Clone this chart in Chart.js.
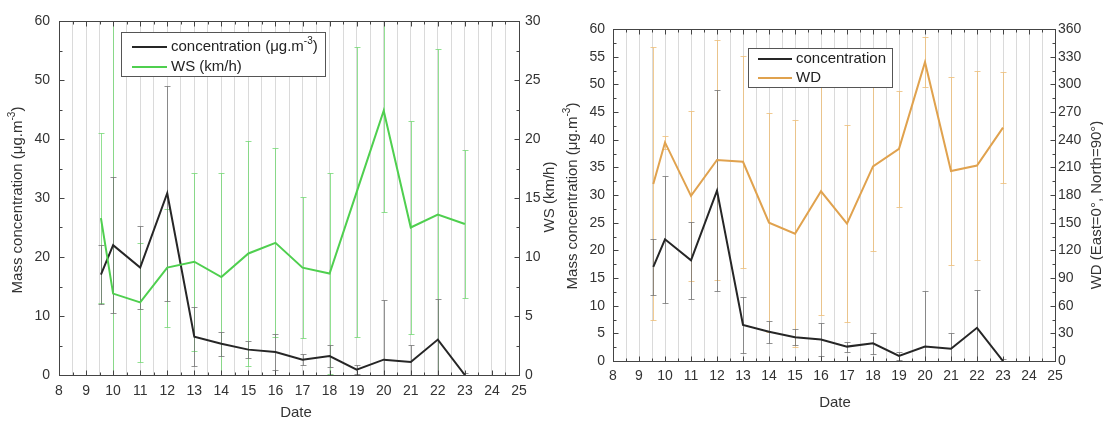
<!DOCTYPE html>
<html><head><meta charset="utf-8">
<script src="https://cdn.jsdelivr.net/npm/chart.js@4.4.1/dist/chart.umd.min.js"></script>
<style>
html,body{margin:0;padding:0;background:#fff;width:1103px;height:421px;overflow:hidden}
#c1{position:absolute;left:0;top:0}
#c2{position:absolute;left:560px;top:0}
</style></head><body>
<canvas id="c1" width="560" height="421"></canvas>
<canvas id="c2" width="543" height="421"></canvas>
<script>
// ---- data ----
const dates = [9.55, 10, 11, 12, 13, 14, 15, 16, 17, 18, 19, 20, 21, 22, 23];
const concentration = [17, 22, 18.2, 30.8, 6.5, 5.3, 4.3, 3.9, 2.6, 3.2, 0.9, 2.6, 2.2, 6, 0];
const concentrationErr = [5, 11.5, 7, 18.2, 5, 2, 1.4, 3, 0.9, 1.9, 0.75, 10.1, 2.9, 6.85, 0.3];
const windSpeed = [13.3, 6.9, 6.15, 9.1, 9.6, 8.3, 10.3, 11.2, 9.1, 8.6, 15.5, 22.4, 12.5, 13.6, 12.8];
const windSpeedErr = [7.2, 24, 5.05, 5, 7.55, 8.8, 9.55, 8, 6, 8.5, 12.3, 8.6, 9, 14, 6.3];
const windDir = [192, 237, 179, 218, 216, 150, 138, 184, 149, 211, 230, 324, 206, 212, 253];
const windDirErr = [148, 7, 92, 130, 115, 119, 123, 134, 107, 92, 63, 27, 102, 102, 60];
const dateTickLabels = [8, 9, 10, 11, 12, 13, 14, 15, 16, 17, 18, 19, 20, 21, 22, 23, 24, 25];

const FONT = '"Liberation Sans", Arial, sans-serif';
Chart.defaults.font.family = FONT;
Chart.defaults.font.size = 14;
Chart.defaults.color = '#333';

const pts = (ys) => dates.map((d, i) => ({x: d, y: ys[i]}));

function drawRich(ctx, parts, x, y, rot, size, align, color) {
  ctx.save();
  ctx.translate(x, y);
  ctx.rotate(rot);
  ctx.textBaseline = 'middle';
  ctx.textAlign = 'left';
  ctx.fillStyle = color || '#333';
  const main = size + 'px ' + FONT;
  const sup = Math.round(size * 0.66) + 'px ' + FONT;
  let w = 0;
  const ws = parts.map(p => { ctx.font = p.sup ? sup : main; const m = ctx.measureText(p.t).width; w += m; return m; });
  let cx = align === 'left' ? 0 : -w / 2;
  parts.forEach((p, i) => {
    ctx.font = p.sup ? sup : main;
    ctx.fillText(p.t, cx, p.sup ? -size * 0.38 : 0);
    cx += ws[i];
  });
  ctx.restore();
}

const errorBars = {
  id: 'errorBars',
  beforeDatasetsDraw(chart) {
    const {ctx, chartArea: a, scales} = chart;
    ctx.save();
    ctx.beginPath();
    ctx.rect(a.left, a.top, a.right - a.left, a.bottom - a.top);
    ctx.clip();
    chart.data.datasets.forEach(ds => {
      if (!ds.errors) return;
      const ys = scales[ds.yAxisID];
      ctx.strokeStyle = ds.errorColor;
      ctx.lineWidth = 1;
      ds.data.forEach((p, i) => {
        const e = ds.errors[i];
        const px = Math.round(scales.x.getPixelForValue(p.x)) + 0.5;
        const hi = Math.round(ys.getPixelForValue(p.y + e)) + 0.5;
        const lo = Math.round(ys.getPixelForValue(p.y - e)) + 0.5;
        ctx.beginPath();
        ctx.moveTo(px, hi); ctx.lineTo(px, lo);
        ctx.moveTo(px - 3, hi); ctx.lineTo(px + 3, hi);
        ctx.moveTo(px - 3, lo); ctx.lineTo(px + 3, lo);
        ctx.stroke();
      });
    });
    ctx.restore();
  }
};

const frameTicks = {
  id: 'frameTicks',
  afterDatasetsDraw(chart) {
    const {ctx, chartArea: a, scales} = chart;
    ctx.save();
    ctx.strokeStyle = '#444';
    ctx.lineWidth = 1;
    const L = Math.round(a.left) + 0.5, R = Math.round(a.right) + 0.5;
    const T = Math.round(a.top) + 0.5, B = Math.round(a.bottom) + 0.5;
    ctx.strokeRect(L, T, R - L, B - T);
    ctx.beginPath();
    const x = scales.x;
    for (let v = x.min, k = 0; v <= x.max + 1e-9; v += 0.5, k++) {
      const px = Math.round(x.getPixelForValue(v)) + 0.5;
      const len = k % 2 === 0 ? 5 : 3;
      ctx.moveTo(px, B); ctx.lineTo(px, B - len);
      ctx.moveTo(px, T); ctx.lineTo(px, T + len);
    }
    ['y', 'y1'].forEach(id => {
      const s = scales[id];
      const step = s.options.ticks.stepSize / 2;
      for (let v = s.min, k = 0; v <= s.max + 1e-9; v += step, k++) {
        const py = Math.round(s.getPixelForValue(v)) + 0.5;
        const len = k % 2 === 0 ? 5 : 3;
        if (id === 'y') { ctx.moveTo(L, py); ctx.lineTo(L + len, py); }
        else { ctx.moveTo(R, py); ctx.lineTo(R - len, py); }
      }
    });
    ctx.stroke();
    ctx.restore();
  },
  afterDraw(chart, args, opts) {
    const {ctx} = chart;
    // legend
    const lg = opts.legend;
    ctx.save();
    ctx.fillStyle = '#fff';
    ctx.fillRect(lg.box[0], lg.box[1], lg.box[2], lg.box[3]);
    ctx.strokeStyle = '#555';
    ctx.lineWidth = 1;
    ctx.strokeRect(lg.box[0] + 0.5, lg.box[1] + 0.5, lg.box[2], lg.box[3]);
    lg.items.forEach(it => {
      ctx.strokeStyle = it.color;
      ctx.lineWidth = 2;
      ctx.beginPath();
      ctx.moveTo(lg.line[0], it.y); ctx.lineTo(lg.line[1], it.y);
      ctx.stroke();
      drawRich(ctx, it.parts, lg.textX, it.y, 0, 15, 'left', '#222');
    });
    ctx.restore();
    opts.titles.forEach(t => drawRich(ctx, t.parts, t.x, t.y, t.rot, 15, 'center', '#333'));
  }
};

const concLabel = [{t: 'concentration (μg.m'}, {t: '-3', sup: true}, {t: ')'}];
const massTitle = [{t: 'Mass concentration (μg.m'}, {t: '-3', sup: true}, {t: ')'}];

function xScale(h, pad) {
  return {
    type: 'linear', min: 8, max: 25,
    afterFit: s => { s.height = h; },
    ticks: {stepSize: 0.5, autoSkip: false, maxRotation: 0, padding: pad,
      callback: v => dateTickLabels.includes(v) ? String(v) : ''},
    grid: {display: true, color: '#dadada', lineWidth: 1, drawTicks: false},
    border: {display: false}
  };
}
function yScale(pos, max, step, w, pad) {
  return {
    type: 'linear', position: pos, min: 0, max: max,
    afterFit: s => { s.width = w; },
    ticks: {stepSize: step, padding: pad},
    grid: {display: false, drawTicks: false},
    border: {display: false}
  };
}

new Chart(document.getElementById('c1'), {
  type: 'line',
  data: {datasets: [
    {label: 'WS (km/h)', data: pts(windSpeed), errors: windSpeedErr, errorColor: 'rgba(110,215,110,0.75)',
     yAxisID: 'y1', borderColor: '#4fcf4f', borderWidth: 2, pointRadius: 0, tension: 0},
    {label: 'concentration', data: pts(concentration), errors: concentrationErr, errorColor: 'rgba(110,110,110,0.75)',
     yAxisID: 'y', borderColor: '#262626', borderWidth: 2, pointRadius: 0, tension: 0}
  ]},
  options: {
    responsive: false, animation: false, devicePixelRatio: 1,
    layout: {padding: {top: 21, left: 0, right: 0, bottom: 0}},
    scales: {x: xScale(46, 8), y: yScale('left', 60, 10, 59, 9), y1: yScale('right', 30, 5, 41, 6)},
    plugins: {
      legend: {display: false}, tooltip: {enabled: false},
      frameTicks: {
        legend: {box: [121, 32, 204, 44], line: [132, 167], textX: 171,
          items: [{parts: concLabel, color: '#262626', y: 47}, {parts: [{t: 'WS (km/h)'}], color: '#4fcf4f', y: 67}]},
        titles: [
          {parts: massTitle, x: 18, y: 200, rot: -Math.PI / 2},
          {parts: [{t: 'WS (km/h)'}], x: 550, y: 197, rot: -Math.PI / 2},
          {parts: [{t: 'Date'}], x: 296, y: 413, rot: 0}
        ]
      }
    }
  },
  plugins: [errorBars, frameTicks]
});

new Chart(document.getElementById('c2'), {
  type: 'line',
  data: {datasets: [
    {label: 'WD', data: pts(windDir), errors: windDirErr, errorColor: 'rgba(238,190,120,0.8)',
     yAxisID: 'y1', borderColor: '#e0a24e', borderWidth: 2, pointRadius: 0, tension: 0},
    {label: 'concentration', data: pts(concentration), errors: concentrationErr, errorColor: 'rgba(110,110,110,0.75)',
     yAxisID: 'y', borderColor: '#262626', borderWidth: 2, pointRadius: 0, tension: 0}
  ]},
  options: {
    responsive: false, animation: false, devicePixelRatio: 1,
    layout: {padding: {top: 29, left: 0, right: 0, bottom: 0}},
    scales: {x: xScale(60, 7), y: yScale('left', 60, 5, 53, 8), y1: yScale('right', 360, 30, 48, 3)},
    plugins: {
      legend: {display: false}, tooltip: {enabled: false},
      frameTicks: {
        legend: {box: [188, 48, 144, 39], line: [198, 232], textX: 236,
          items: [{parts: [{t: 'concentration'}], color: '#262626', y: 59}, {parts: [{t: 'WD'}], color: '#e0a24e', y: 78}]},
        titles: [
          {parts: massTitle, x: 13, y: 196, rot: -Math.PI / 2},
          {parts: [{t: 'WD (East=0°, North=90°)'}], x: 537, y: 205, rot: -Math.PI / 2},
          {parts: [{t: 'Date'}], x: 275, y: 403, rot: 0}
        ]
      }
    }
  },
  plugins: [errorBars, frameTicks]
});
</script>
</body></html>
